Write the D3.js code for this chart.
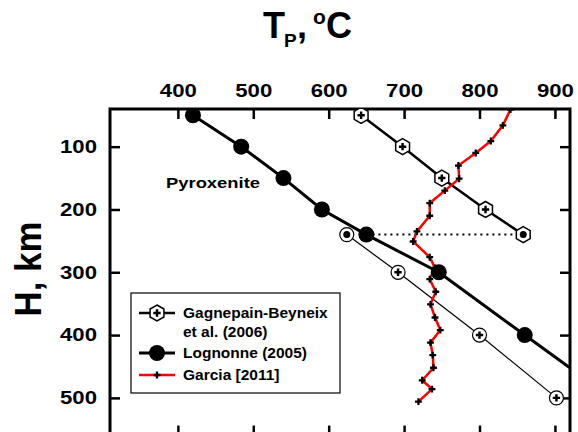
<!DOCTYPE html>
<html>
<head>
<meta charset="utf-8">
<script src="https://cdn.jsdelivr.net/npm/d3@7"></script>
<style>
  body { margin: 0; background: #fff; }
  text { font-family: "Liberation Sans", Arial, sans-serif; font-weight: bold; }
</style>
</head>
<body>
<script>
// temperature ticks (top) and depth ticks (left)
const xTicks = [400, 500, 600, 700, 800, 900];
const yTicks = [100, 200, 300, 400, 500];

// Lognonne (2005)
const lognT = [420, 484, 540, 591, 650, 746, 860, 975];
const lognH = [50, 100, 150, 200, 240, 300, 400, 500];

// Gagnepain-Beyneix et al. (2006), upper branch (hexagons)
const gagUpT = [643, 698, 750, 808, 858];
const gagUpH = [50, 100, 150, 200, 240];

// Gagnepain-Beyneix et al. (2006), lower branch (open circles)
const gagLoT = [624, 692, 800, 902];
const gagLoH = [240, 300, 400, 500];

// Garcia [2011]
const garT = [841, 831, 815, 795, 772, 773, 754, 734, 734, 717, 712, 734, 741, 734, 742, 735, 741, 748, 735, 738, 739, 724, 737, 719];
const garH = [41, 66, 91, 110, 130, 151, 170, 190, 210, 235, 251, 276, 293, 311, 331, 351, 372, 392, 412, 432, 452, 472, 486, 506];

const W = 578, H = 432;
const mLeft = 110, mRight = 570, mTop = 109;

const svg = d3.select("body").append("svg")
  .attr("width", W).attr("height", H);

const x = d3.scaleLinear().domain([310, 920]).range([mLeft, mRight]);
const y = d3.scaleLinear().domain([40, 560]).range([mTop, mTop + 520 * 0.628]);
const mBottom = y(560);

svg.append("defs").append("clipPath").attr("id", "clip")
  .append("rect").attr("x", mLeft).attr("y", mTop)
  .attr("width", mRight - mLeft).attr("height", mBottom - mTop);

// axes with inward ticks
const fmtAxis = g => {
  g.select(".domain").remove();
  g.selectAll(".tick line").attr("stroke", "#000").attr("stroke-width", 2.5);
  g.selectAll(".tick text").attr("font-size", 18).attr("fill", "#000")
    .attr("textLength", 37).attr("lengthAdjust", "spacingAndGlyphs");
};

svg.append("g").attr("transform", `translate(0,${mTop})`)
  .call(d3.axisTop(x).tickValues(xTicks).tickSize(-10).tickPadding(12))
  .call(fmtAxis);
svg.append("g").attr("transform", `translate(0,${mBottom})`)
  .call(d3.axisBottom(x).tickValues(xTicks).tickSize(-10).tickFormat(""))
  .call(fmtAxis);
svg.append("g").attr("transform", `translate(${mLeft},0)`)
  .call(d3.axisLeft(y).tickValues(yTicks).tickSize(-10).tickPadding(13))
  .call(fmtAxis);
svg.append("g").attr("transform", `translate(${mRight},0)`)
  .call(d3.axisRight(y).tickValues(yTicks).tickSize(-10).tickFormat(""))
  .call(fmtAxis);

svg.append("rect")
  .attr("x", mLeft).attr("y", mTop)
  .attr("width", mRight - mLeft).attr("height", mBottom - mTop)
  .attr("fill", "none").attr("stroke", "#000").attr("stroke-width", 3);

const plot = svg.append("g").attr("clip-path", "url(#clip)");
const line = d3.line().x(d => x(d[0])).y(d => y(d[1]));

const logn = d3.zip(lognT, lognH);
const gagUp = d3.zip(gagUpT, gagUpH);
const gagLo = d3.zip(gagLoT, gagLoH);
const gar = d3.zip(garT, garH);

// dotted link at 240 km
plot.append("path")
  .attr("d", line([logn[4], gagUp[4]]))
  .attr("stroke", "#000").attr("stroke-width", 2)
  .attr("stroke-dasharray", "2,4").attr("fill", "none");

plot.append("path").attr("d", line(gagLo))
  .attr("stroke", "#000").attr("stroke-width", 1.2).attr("fill", "none");
plot.append("path").attr("d", line(gagUp))
  .attr("stroke", "#000").attr("stroke-width", 2.5).attr("fill", "none");
plot.append("path").attr("d", line(logn))
  .attr("stroke", "#000").attr("stroke-width", 3).attr("fill", "none");
plot.append("path").attr("d", line(gar))
  .attr("stroke", "#ff0000").attr("stroke-width", 2.5).attr("fill", "none");

const cross = d3.symbol().type(d3.symbolCross).size(26);
const plus = d3.symbol().type(d3.symbolCross).size(30);
const hexPath = r => {
  const pts = d3.range(6).map(i => {
    const a = Math.PI / 3 * i - Math.PI / 2;
    return [r * Math.cos(a), r * Math.sin(a)];
  });
  return "M" + pts.join("L") + "Z";
};

function hexMark(g, dot) {
  g.append("path").attr("d", hexPath(8))
    .attr("fill", "#fff").attr("stroke", "#000").attr("stroke-width", 1.5);
  if (dot) g.append("circle").attr("r", 3.5).attr("fill", "#000");
  else g.append("path").attr("d", plus()).attr("fill", "#000");
}
function ringMark(g, dot) {
  g.append("circle").attr("r", 7)
    .attr("fill", "#fff").attr("stroke", "#000").attr("stroke-width", 1.2);
  if (dot) g.append("circle").attr("r", 3.5).attr("fill", "#000");
  else g.append("path").attr("d", plus()).attr("fill", "#000");
}

plot.selectAll(".gar").data(gar).join("path")
  .attr("transform", d => `translate(${x(d[0])},${y(d[1])})`)
  .attr("d", cross()).attr("fill", "#000");

plot.selectAll(".lo").data(gagLo).join("g")
  .attr("transform", d => `translate(${x(d[0])},${y(d[1])})`)
  .each(function (d, i) { ringMark(d3.select(this), i === 0); });

plot.selectAll(".up").data(gagUp).join("g")
  .attr("transform", d => `translate(${x(d[0])},${y(d[1])})`)
  .each(function (d, i) { hexMark(d3.select(this), i === gagUp.length - 1); });

plot.selectAll(".ln").data(logn).join("circle")
  .attr("cx", d => x(d[0])).attr("cy", d => y(d[1]))
  .attr("r", 8).attr("fill", "#000");

// labels
svg.append("text").attr("x", 166).attr("y", 188)
  .attr("font-size", 15.5).attr("textLength", 94).attr("lengthAdjust", "spacingAndGlyphs")
  .text("Pyroxenite");

const title = svg.append("text").attr("y", 38).attr("font-size", 36);
title.append("tspan").attr("x", 263).text("T");
title.append("tspan").attr("x", 284).attr("font-size", 19).attr("dy", 9).text("P");
title.append("tspan").attr("x", 297).attr("dy", -9).text(",");
title.append("tspan").attr("x", 313).attr("font-size", 21).attr("dy", -14).text("o");
title.append("tspan").attr("x", 326).attr("dy", 14).text("C");

svg.append("text")
  .attr("transform", "translate(41,269) rotate(-90)")
  .attr("text-anchor", "middle").attr("font-size", 36)
  .attr("textLength", 95).attr("lengthAdjust", "spacingAndGlyphs")
  .text("H, km");

// legend
const lg = svg.append("g");
lg.append("rect").attr("x", 131).attr("y", 293).attr("width", 209).attr("height", 100)
  .attr("fill", "#fff").attr("stroke", "#000").attr("stroke-width", 1.2);

const rows = [
  { y: 313, label: ["Gagnepain-Beyneix", "et al. (2006)"], w: 2.5, c: "#000", m: "hex" },
  { y: 353, label: ["Lognonne (2005)"], w: 3, c: "#000", m: "dot" },
  { y: 375, label: ["Garcia [2011]"], w: 2.5, c: "#ff0000", m: "cross" }
];
rows.forEach(r => {
  lg.append("line").attr("x1", 139).attr("x2", 175).attr("y1", r.y).attr("y2", r.y)
    .attr("stroke", r.c).attr("stroke-width", r.w);
  const m = lg.append("g").attr("transform", `translate(157,${r.y})`);
  if (r.m === "hex") hexMark(m, false);
  else if (r.m === "dot") m.append("circle").attr("r", 8).attr("fill", "#000");
  else m.append("path").attr("d", cross()).attr("fill", "#000");
  r.label.forEach((t, i) => {
    lg.append("text").attr("x", 183).attr("y", r.y + 5 + i * 19)
      .attr("font-size", 15.5).text(t);
  });
});
</script>
</body>
</html>
